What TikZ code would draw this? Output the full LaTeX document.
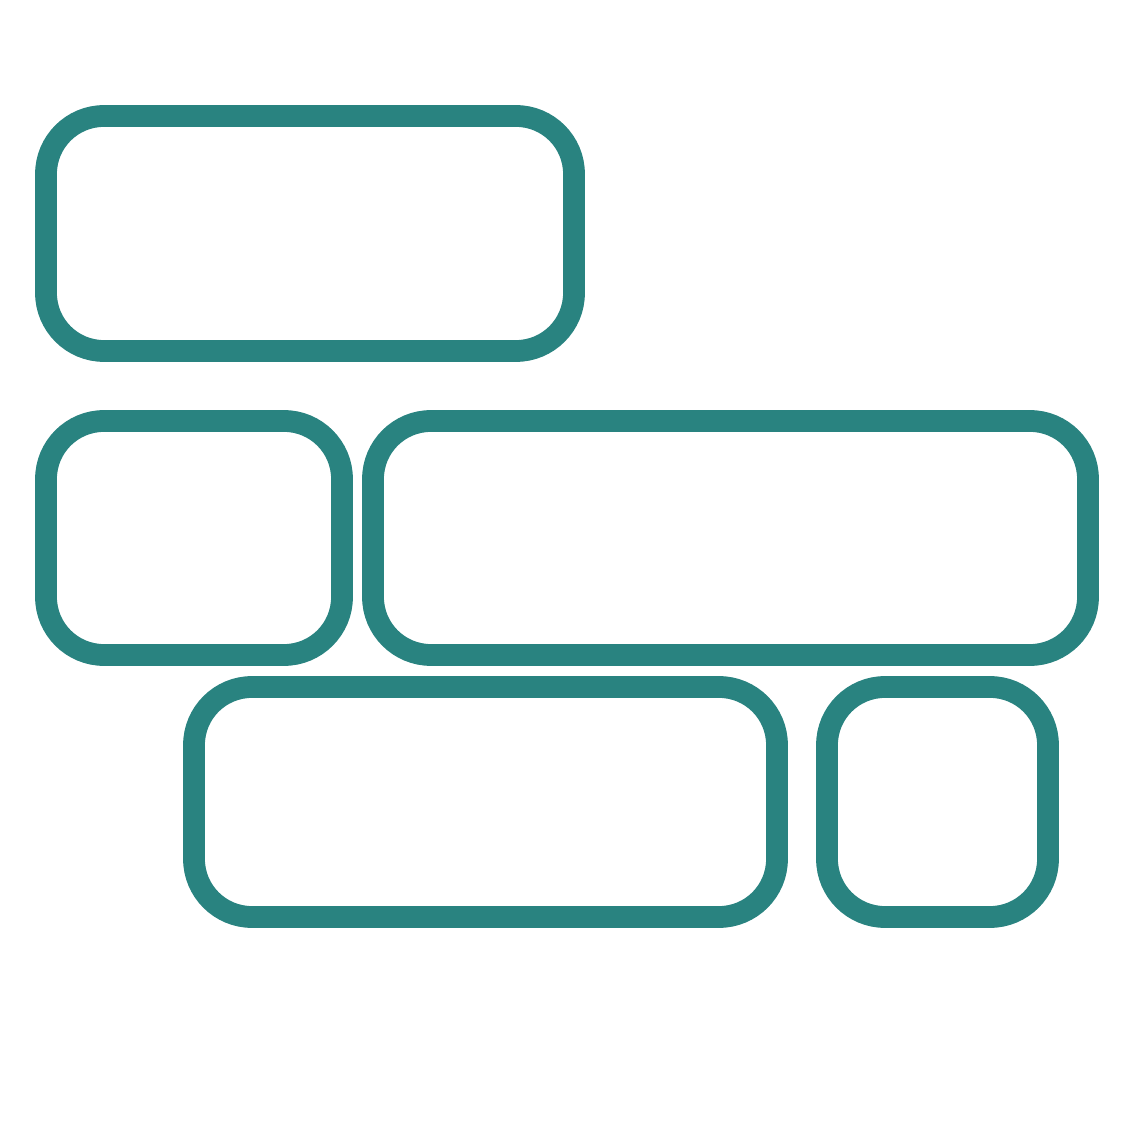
\documentclass[tikz,border=0pt]{standalone}
\usepackage{tikz}
\usetikzlibrary{positioning}

\definecolor{tealline}{RGB}{41,131,128}

\begin{document}
\begin{tikzpicture}[line width=6.2pt]
\tikzset{panel/.style={draw=tealline,rounded corners=0.58cm,inner sep=0pt,outer sep=0pt}}
\useasboundingbox (0,0) rectangle (11.34,11.34);

\node[panel,minimum width=5.28cm,minimum height=2.35cm] (top) at (3.10,9.005) {};
\node[panel,minimum width=2.96cm,minimum height=2.34cm,below=0.70cm of top.south west,anchor=north west] (midleft) {};
\node[panel,minimum width=7.15cm,minimum height=2.34cm,right=0.31cm of midleft] (midright) {};
\node[panel,minimum width=5.83cm,minimum height=2.30cm,below=0.32cm of midleft.south west,xshift=1.48cm,anchor=north west] (lowleft) {};
\node[panel,minimum width=2.21cm,minimum height=2.30cm,right=0.50cm of lowleft] (lowright) {};
\end{tikzpicture}
\end{document}
